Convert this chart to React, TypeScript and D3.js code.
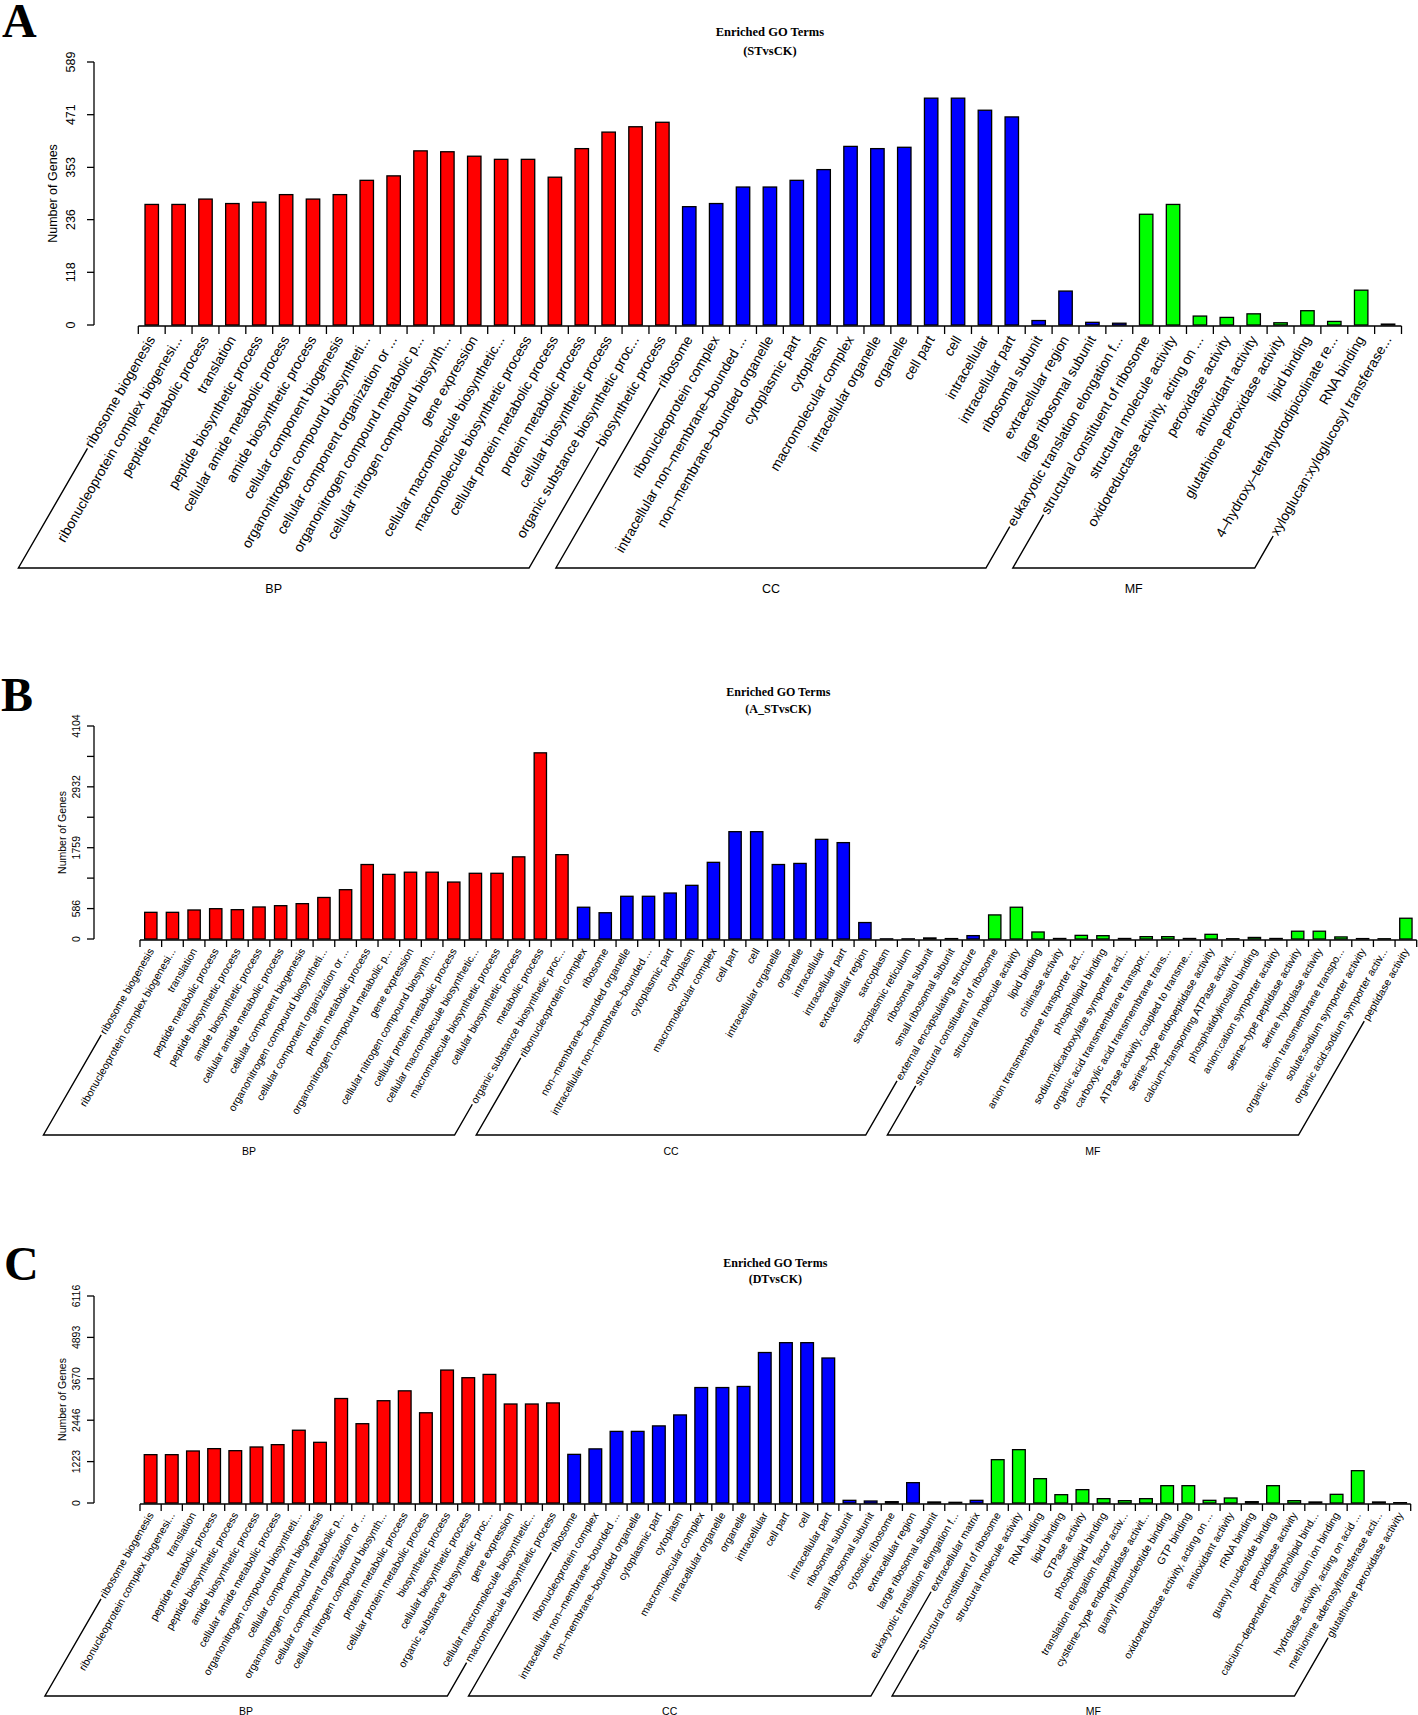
import React, { useEffect, useRef } from "react";
import * as d3 from "d3";

// ---------------- Panel A (STvsCK) ----------------
const aBPTerms = [
  "ribosome biogenesis", "ribonucleoprotein complex biogenesi...", "peptide metabolic process", "translation",
  "peptide biosynthetic process", "cellular amide metabolic process", "amide biosynthetic process",
  "cellular component biogenesis", "organonitrogen compound biosyntheti...", "cellular component organization or ...",
  "organonitrogen compound metabolic p...", "cellular nitrogen compound biosynth...", "gene expression",
  "cellular macromolecule biosynthetic...", "macromolecule biosynthetic process", "cellular protein metabolic process",
  "protein metabolic process", "cellular biosynthetic process", "organic substance biosynthetic proc...", "biosynthetic process",
];
const aBPCounts = [270, 270, 282, 272, 275, 292, 282, 292, 324, 334, 390, 388, 378, 371, 371, 331, 395, 432, 444, 454];
const aCCTerms = [
  "ribosome", "ribonucleoprotein complex", "intracellular non\u2013membrane\u2013bounded ...", "non\u2013membrane\u2013bounded organelle",
  "cytoplasmic part", "cytoplasm", "macromolecular complex", "intracellular organelle", "organelle", "cell part", "cell",
  "intracellular", "intracellular part", "ribosomal subunit", "extracellular region", "large ribosomal subunit",
  "eukaryotic translation elongation f...",
];
const aCCCounts = [265, 272, 309, 309, 324, 348, 400, 395, 398, 508, 508, 481, 466, 10, 76, 6, 4];
const aMFTerms = [
  "structural constituent of ribosome", "structural molecule activity", "oxidoreductase activity, acting on ...",
  "peroxidase activity", "antioxidant activity", "glutathione peroxidase activity", "lipid binding",
  "4\u2013hydroxy\u2013tetrahydrodipicolinate re...", "RNA binding", "xyloglucan:xyloglucosyl transferase...",
];
const aMFCounts = [248, 270, 20, 17, 25, 5, 32, 8, 78, 2];
const aTicks = [0, 118, 236, 353, 471, 589];
const aTickLabels = ["0", "118", "236", "353", "471", "589"];

// ---------------- Panel B (A_STvsCK) ----------------
const bBPTerms = [
  "ribosome biogenesis", "ribonucleoprotein complex biogenesi...", "translation", "peptide metabolic process",
  "peptide biosynthetic process", "amide biosynthetic process", "cellular amide metabolic process",
  "cellular component biogenesis", "organonitrogen compound biosyntheti...", "cellular component organization or ...",
  "protein metabolic process", "organonitrogen compound metabolic p...", "gene expression",
  "cellular nitrogen compound biosynth...", "cellular protein metabolic process", "cellular macromolecule biosynthetic...",
  "macromolecule biosynthetic process", "cellular biosynthetic process", "metabolic process", "organic substance biosynthetic proc...",
];
const bBPCounts = [514, 514, 559, 584, 565, 617, 642, 681, 800, 950, 1435, 1245, 1287, 1287, 1097, 1266, 1266, 1583, 3587, 1625];
const bCCTerms = [
  "ribonucleoprotein complex", "ribosome", "non\u2013membrane\u2013bounded organelle", "intracellular non\u2013membrane\u2013bounded ...",
  "cytoplasmic part", "cytoplasm", "macromolecular complex", "cell part", "cell", "intracellular organelle", "organelle",
  "intracellular", "intracellular part", "extracellular region", "sarcoplasm", "sarcoplasmic reticulum", "ribosomal subunit",
  "small ribosomal subunit", "external encapsulating structure",
];
const bCCCounts = [612, 506, 823, 823, 886, 1034, 1477, 2068, 2068, 1435, 1456, 1920, 1857, 317, 3, 3, 20, 8, 65];
const bMFTerms = [
  "structural constituent of ribosome", "structural molecule activity", "lipid binding", "chitinase activity",
  "anion transmembrane transporter act...", "phospholipid binding", "sodium:dicarboxylate symporter acti...",
  "organic acid transmembrane transpor...", "carboxylic acid transmembrane trans...", "ATPase activity, coupled to transme...",
  "serine\u2013type endopeptidase activity", "calcium\u2013transporting ATPase activit...", "phosphatidylinositol binding",
  "anion:cation symporter activity", "serine\u2013type peptidase activity", "serine hydrolase activity",
  "organic anion transmembrane transpo...", "solute:sodium symporter activity", "organic acid:sodium symporter activ...",
  "peptidase activity",
];
const bMFCounts = [464, 612, 135, 10, 70, 64, 10, 45, 45, 10, 90, 5, 30, 10, 150, 150, 40, 8, 5, 400];
const bTicks = [0, 586, 1173, 1759, 2346, 2932, 3518, 4104];
const bTickLabels = ["0", "586", "", "1759", "", "2932", "", "4104"];

// ---------------- Panel C (DTvsCK) ----------------
const cBPTerms = [
  "ribosome biogenesis", "ribonucleoprotein complex biogenesi...", "translation", "peptide metabolic process",
  "peptide biosynthetic process", "amide biosynthetic process", "cellular amide metabolic process",
  "organonitrogen compound biosyntheti...", "cellular component biogenesis", "organonitrogen compound metabolic p...",
  "cellular component organization or ...", "cellular nitrogen compound biosynth...", "protein metabolic process",
  "cellular protein metabolic process", "biosynthetic process", "cellular biosynthetic process",
  "organic substance biosynthetic proc...", "gene expression", "cellular macromolecule biosynthetic...",
  "macromolecule biosynthetic process",
];
const cBPCounts = [1428, 1428, 1537, 1606, 1546, 1655, 1724, 2150, 1793, 3087, 2343, 3022, 3314, 2666, 3928, 3702, 3799, 2925, 2925, 2957];
const cCCTerms = [
  "ribosome", "ribonucleoprotein complex", "intracellular non\u2013membrane\u2013bounded ...", "non\u2013membrane\u2013bounded organelle",
  "cytoplasmic part", "cytoplasm", "macromolecular complex", "intracellular organelle", "organelle", "intracellular",
  "cell part", "cell", "intracellular part", "ribosomal subunit", "small ribosomal subunit", "cytosolic ribosome",
  "extracellular region", "large ribosomal subunit", "eukaryotic translation elongation f...", "extracellular matrix",
];
const cCCCounts = [1437, 1599, 2116, 2116, 2278, 2602, 3411, 3411, 3443, 4446, 4737, 4737, 4284, 79, 59, 39, 601, 30, 20, 79];
const cMFTerms = [
  "structural constituent of ribosome", "structural molecule activity", "RNA binding", "lipid binding", "GTPase activity",
  "phospholipid binding", "translation elongation factor activ...", "cysteine\u2013type endopeptidase activit...",
  "guanyl ribonucleotide binding", "GTP binding", "oxidoreductase activity, acting on ...", "antioxidant activity",
  "rRNA binding", "guanyl nucleotide binding", "peroxidase activity", "calcium\u2013dependent phospholipid bind...",
  "calcium ion binding", "hydrolase activity, acting on acid ...", "methionine adenosyltransferase acti...",
  "glutathione peroxidase activity",
];
const cMFCounts = [1280, 1576, 719, 246, 394, 128, 69, 128, 512, 512, 79, 148, 39, 512, 69, 30, 256, 955, 30, 10];
const cTicks = [0, 1223, 2446, 3670, 4893, 6116];
const cTickLabels = ["0", "1223", "2446", "3670", "4893", "6116"];

const groupNames = ["BP", "CC", "MF"];
const groupColors = ["#FF0000", "#0000FF", "#00FF00"];

const SANS = "'Liberation Sans', Arial, Helvetica, sans-serif";
const SERIF = "'Liberation Serif', 'Times New Roman', serif";

const panels = [
  {
    letter: "A", letterX: 2, letterY: 37, subtitle: "(STvsCK)",
    bp: [aBPTerms, aBPCounts], cc: [aCCTerms, aCCCounts], mf: [aMFTerms, aMFCounts],
    ticks: aTicks, tickLabels: aTickLabels,
    x0: 138.3, x1: 1401.5, baseY: 325, topY: 62, barFrac: 0.5,
    axisX: 94, yLabelX: 71, yTitleX: 53, titleY1: 32, titleY2: 51,
    xFont: 13.8, axisFont: 12.5, titleFont: 12.5,
    labelOffset: 11, tickLen: 8, bracketY: 568, groupY: 589,
  },
  {
    letter: "B", letterX: 1, letterY: 711, subtitle: "(A_STvsCK)",
    bp: [bBPTerms, bBPCounts], cc: [bCCTerms, bCCCounts], mf: [bMFTerms, bMFCounts],
    ticks: bTicks, tickLabels: bTickLabels,
    x0: 140, x1: 1416.7, baseY: 939, topY: 726, barFrac: 0.57,
    axisX: 94, yLabelX: 76, yTitleX: 62, titleY1: 692, titleY2: 709,
    xFont: 10.6, axisFont: 10.5, titleFont: 12,
    labelOffset: 9, tickLen: 7, bracketY: 1135, groupY: 1151,
  },
  {
    letter: "C", letterX: 4, letterY: 1280, subtitle: "(DTvsCK)",
    bp: [cBPTerms, cBPCounts], cc: [cCCTerms, cCCCounts], mf: [cMFTerms, cMFCounts],
    ticks: cTicks, tickLabels: cTickLabels,
    x0: 140, x1: 1410.7, baseY: 1503, topY: 1296, barFrac: 0.6,
    axisX: 94, yLabelX: 76, yTitleX: 62, titleY1: 1263, titleY2: 1279,
    xFont: 10.6, axisFont: 10.5, titleFont: 12,
    labelOffset: 9, tickLen: 7, bracketY: 1696, groupY: 1711,
  },
];

function drawPanel(svg: any, p: any) {
  const g = svg.append("g");
  const groups = [p.bp, p.cc, p.mf];
  const items: any[] = [];
  groups.forEach((gr: any, gi: number) => {
    gr[0].forEach((t: string, i: number) => items.push({ term: t, count: gr[1][i], group: gi }));
  });
  const n = items.length;
  const yMax = p.ticks[p.ticks.length - 1];
  const pad = 1 - p.barFrac;
  const x = d3.scaleBand<number>().domain(d3.range(n)).range([p.x0, p.x1]).paddingInner(pad).paddingOuter(pad / 2);
  const step = x.step();
  const y = d3.scaleLinear().domain([0, yMax]).range([p.baseY, p.topY]);

  // bars
  g.selectAll("rect.bar")
    .data(items)
    .join("rect")
    .attr("class", "bar")
    .attr("x", (_d: any, i: number) => x(i))
    .attr("y", (d: any) => y(d.count))
    .attr("width", x.bandwidth())
    .attr("height", (d: any) => y(0) - y(d.count))
    .attr("fill", (d: any) => groupColors[d.group])
    .attr("stroke", "#000")
    .attr("stroke-width", 1.3);

  // x axis
  const axY = p.baseY + 1;
  g.append("line").attr("x1", p.x0).attr("x2", p.x1).attr("y1", axY).attr("y2", axY)
    .attr("stroke", "#000").attr("stroke-width", 1.3);
  d3.range(n + 1).forEach((k: number) => {
    const xx = p.x0 + k * step;
    g.append("line").attr("x1", xx).attr("x2", xx).attr("y1", axY).attr("y2", axY + p.tickLen)
      .attr("stroke", "#000").attr("stroke-width", 1.3);
  });

  // x labels
  const sin60 = Math.sin(Math.PI / 3);
  const starts: number[][] = [];
  items.forEach((d: any, i: number) => {
    const cx = (x(i) as number) + x.bandwidth() / 2;
    const y0 = axY + p.labelOffset;
    const t = g.append("text")
      .attr("transform", `translate(${cx},${y0}) rotate(-60)`)
      .attr("text-anchor", "end")
      .attr("dominant-baseline", "central")
      .style("font-family", SANS)
      .style("font-size", p.xFont + "px")
      .text(d.term);
    const L = (t.node() as SVGTextElement).getComputedTextLength();
    starts.push([cx - L * 0.5, y0 + L * sin60]);
  });

  // group brackets
  groupNames.forEach((name: string, gi: number) => {
    const idx = items.map((d: any, i: number) => (d.group === gi ? i : -1)).filter((i: number) => i >= 0);
    const first = idx[0];
    const last = idx[idx.length - 1];
    const gap = 2;
    const p1 = [starts[first][0] - gap * 0.5, starts[first][1] + gap * sin60];
    const p2 = [starts[last][0] - gap * 0.5, starts[last][1] + gap * sin60];
    const lb = [p1[0] - (p.bracketY - p1[1]) / Math.tan(Math.PI / 3), p.bracketY];
    const rb = [p2[0] - (p.bracketY - p2[1]) / Math.tan(Math.PI / 3), p.bracketY];
    const path = d3.path();
    path.moveTo(p1[0], p1[1]);
    path.lineTo(lb[0], lb[1]);
    path.lineTo(rb[0], rb[1]);
    path.lineTo(p2[0], p2[1]);
    g.append("path").attr("d", path.toString()).attr("fill", "none").attr("stroke", "#000").attr("stroke-width", 1.4);
    g.append("text")
      .attr("x", (lb[0] + rb[0]) / 2)
      .attr("y", p.groupY)
      .attr("text-anchor", "middle")
      .attr("dominant-baseline", "central")
      .style("font-family", SANS)
      .style("font-size", p.axisFont + "px")
      .text(name);
  });

  // y axis
  g.append("line").attr("x1", p.axisX).attr("x2", p.axisX).attr("y1", y(0)).attr("y2", y(yMax))
    .attr("stroke", "#000").attr("stroke-width", 1.3);
  p.ticks.forEach((tv: number, k: number) => {
    g.append("line").attr("x1", p.axisX - 7).attr("x2", p.axisX).attr("y1", y(tv)).attr("y2", y(tv))
      .attr("stroke", "#000").attr("stroke-width", 1.3);
    if (p.tickLabels[k]) {
      g.append("text")
        .attr("transform", `translate(${p.yLabelX},${y(tv)}) rotate(-90)`)
        .attr("text-anchor", "middle")
        .attr("dominant-baseline", "central")
        .style("font-family", SANS)
        .style("font-size", p.axisFont + "px")
        .text(p.tickLabels[k]);
    }
  });
  g.append("text")
    .attr("transform", `translate(${p.yTitleX},${(y(0) + y(yMax)) / 2}) rotate(-90)`)
    .attr("text-anchor", "middle")
    .attr("dominant-baseline", "central")
    .style("font-family", SANS)
    .style("font-size", p.axisFont + "px")
    .text("Number of Genes");

  // title
  const cxTitle = (p.x0 + p.x1) / 2;
  [["Enriched GO Terms", p.titleY1], [p.subtitle, p.titleY2]].forEach(([txt, ty]: any) => {
    g.append("text")
      .attr("x", cxTitle).attr("y", ty)
      .attr("text-anchor", "middle").attr("dominant-baseline", "central")
      .style("font-family", SERIF).style("font-weight", "bold").style("font-size", p.titleFont + "px")
      .text(txt);
  });

  // panel letter
  g.append("text")
    .attr("x", p.letterX).attr("y", p.letterY)
    .style("font-family", SERIF).style("font-weight", "bold").style("font-size", "48px")
    .text(p.letter);
}

export default function App() {
  const ref = useRef<SVGSVGElement>(null);
  useEffect(() => {
    const svg = d3.select(ref.current);
    svg.selectAll("*").remove();
    panels.forEach((p) => drawPanel(svg, p));
  }, []);
  return (
    <svg
      ref={ref}
      width={1418}
      height={1715}
      style={{ position: "absolute", left: 0, top: 0, background: "#ffffff" }}
    />
  );
}
